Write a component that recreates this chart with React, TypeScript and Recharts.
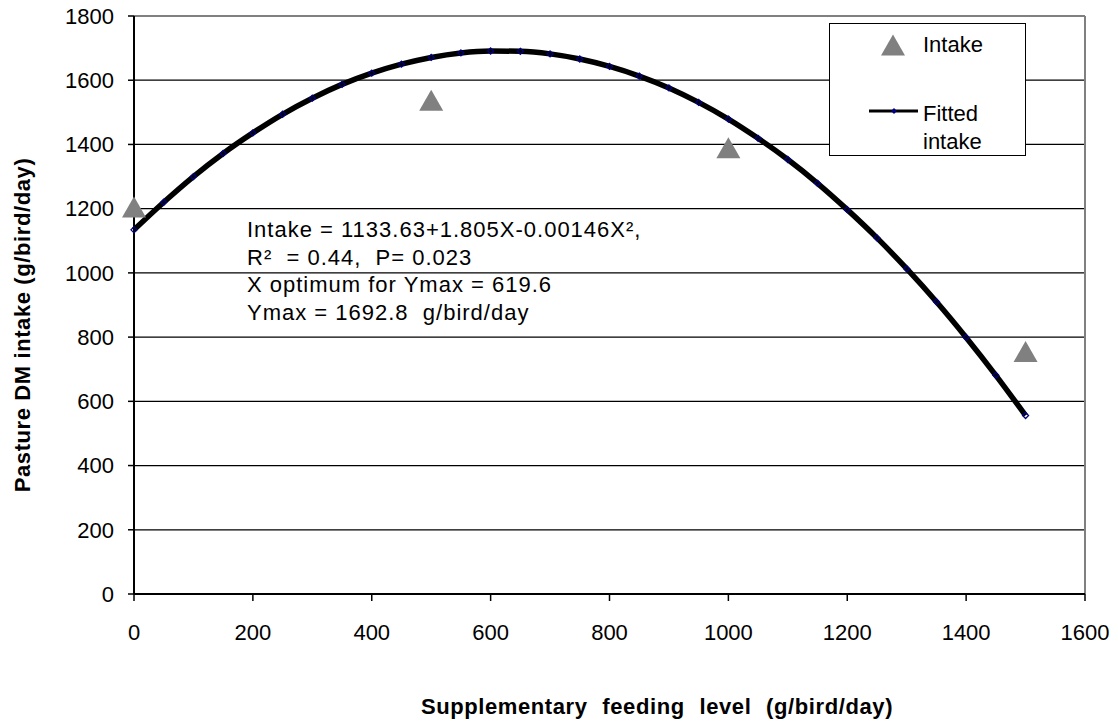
import React from 'react';
import { ComposedChart, Line, Scatter, XAxis, YAxis, CartesianGrid, ReferenceLine } from 'recharts';

const xTicks = [0, 200, 400, 600, 800, 1000, 1200, 1400, 1600];
const yTicks = [0, 200, 400, 600, 800, 1000, 1200, 1400, 1600, 1800];
const gridValues = [200, 400, 600, 800, 1000, 1200, 1400, 1600];

const fittedX = [0, 50, 100, 150, 200, 250, 300, 350, 400, 450, 500, 550, 600, 650, 700, 750, 800, 850, 900, 950, 1000, 1050, 1100, 1150, 1200, 1250, 1300, 1350, 1400, 1450, 1500];
const fittedY = [1134, 1220, 1300, 1372, 1436, 1494, 1544, 1587, 1622, 1650, 1671, 1685, 1691, 1690, 1682, 1666, 1643, 1613, 1576, 1531, 1479, 1419, 1353, 1279, 1197, 1109, 1013, 910, 799, 681, 556];

const intakeX = [0, 500, 1000, 1500];
const intakeY = [1205, 1538, 1390, 755];

const equationLines = [
  'Intake = 1133.63+1.805X-0.00146X\u00B2,',
  'R\u00B2  = 0.44,  P= 0.023',
  'X optimum for Ymax = 619.6',
  'Ymax = 1692.8  g/bird/day',
];

const fittedData = fittedX.map((x, i) => ({ x, y: fittedY[i] }));
const intakeData = intakeX.map((x, i) => ({ x, y: intakeY[i] }));

const FONT = '"Liberation Sans", Arial, sans-serif';

const Diamond = (props: any) => {
  const { cx, cy, index } = props;
  if (cx == null || cy == null) return <g key={`d-${index}`} />;
  const r = 3;
  return (
    <path
      key={`d-${index}`}
      d={`M${cx},${cy - r}L${cx + r},${cy}L${cx},${cy + r}L${cx - r},${cy}Z`}
      stroke="#000080"
      strokeWidth={1.3}
      fill="none"
    />
  );
};

const Triangle = (props: any) => {
  const { cx, cy } = props;
  if (cx == null || cy == null) return <g />;
  const w = 12;
  const h = 10.5;
  return <path d={`M${cx},${cy - h}L${cx + w},${cy + h}L${cx - w},${cy + h}Z`} fill="#808080" />;
};

export default function App() {
  return (
    <div style={{ position: 'relative', width: 1118, height: 725, margin: '-8px 0 0 -8px', fontFamily: FONT, color: '#000' }}>
      <ComposedChart
        width={1118}
        height={725}
        margin={{ top: 16, right: 33, left: 74, bottom: 91 }}
        style={{ fontFamily: FONT }}
      >
        <CartesianGrid horizontal vertical={false} stroke="#000" strokeWidth={1.2} horizontalValues={gridValues} />
        <XAxis
          type="number"
          dataKey="x"
          domain={[0, 1600]}
          ticks={xTicks}
          interval={0}
          height={40}
          tickSize={7}
          tickMargin={23}
          axisLine={{ stroke: '#000', strokeWidth: 2 }}
          tickLine={{ stroke: '#000', strokeWidth: 1.5 }}
          tick={{ fill: '#000', fontSize: 22, fontFamily: FONT }}
        />
        <YAxis
          type="number"
          dataKey="y"
          domain={[0, 1800]}
          ticks={yTicks}
          interval={0}
          width={60}
          tickSize={6}
          tickMargin={14}
          axisLine={{ stroke: '#000', strokeWidth: 2 }}
          tickLine={{ stroke: '#000', strokeWidth: 1.5 }}
          tick={{ fill: '#000', fontSize: 22, fontFamily: FONT }}
        />
        <ReferenceLine y={1800} stroke="#808080" strokeWidth={2} />
        <ReferenceLine x={1600} stroke="#808080" strokeWidth={2} />
        <Scatter data={intakeData} dataKey="y" fill="#808080" shape={Triangle} isAnimationActive={false} />
        <Line
          data={fittedData}
          dataKey="y"
          type="monotone"
          stroke="#000"
          strokeWidth={5.5}
          dot={Diamond}
          activeDot={false}
          isAnimationActive={false}
        />
      </ComposedChart>

      {/* Equation annotation */}
      <div
        style={{
          position: 'absolute',
          left: 247,
          top: 216,
          fontSize: 22,
          lineHeight: '27.5px',
          letterSpacing: '1px',
          whiteSpace: 'pre',
        }}
      >
        {equationLines.map((l, i) => (
          <div key={i}>{l}</div>
        ))}
      </div>

      {/* Legend */}
      <div
        style={{
          position: 'absolute',
          left: 829,
          top: 23,
          width: 195,
          height: 131,
          border: '1.5px solid #000',
          background: '#fff',
          fontSize: 22,
        }}
      >
        <svg style={{ position: 'absolute', left: 0, top: 0 }} width={195} height={131}>
          <path d="M63,10.5L75,31.5L51,31.5Z" fill="#808080" />
          <line x1={39} y1={87} x2={88} y2={87} stroke="#000" strokeWidth={3} />
          <path d="M64,84L67,87L64,90L61,87Z" fill="#000080" />
        </svg>
        <div style={{ position: 'absolute', left: 93, top: 10, lineHeight: '22px' }}>Intake</div>
        <div style={{ position: 'absolute', left: 93, top: 76, lineHeight: '28px' }}>
          Fitted
          <br />
          intake
        </div>
      </div>

      {/* Axis titles */}
      <div
        style={{
          position: 'absolute',
          left: 657 - 300,
          top: 696,
          width: 600,
          textAlign: 'center',
          fontSize: 22,
          fontWeight: 'bold',
          lineHeight: '22px',
          letterSpacing: '0.6px',
          wordSpacing: '8px',
          whiteSpace: 'pre',
        }}
      >
        Supplementary feeding level (g/bird/day)
      </div>
      <div
        style={{
          position: 'absolute',
          left: 23 - 250,
          top: 325 - 11,
          width: 500,
          textAlign: 'center',
          fontSize: 22,
          fontWeight: 'bold',
          lineHeight: '22px',
          letterSpacing: '0.6px',
          transform: 'rotate(-90deg)',
          transformOrigin: '250px 11px',
          whiteSpace: 'pre',
        }}
      >
        Pasture DM intake (g/bird/day)
      </div>
    </div>
  );
}
